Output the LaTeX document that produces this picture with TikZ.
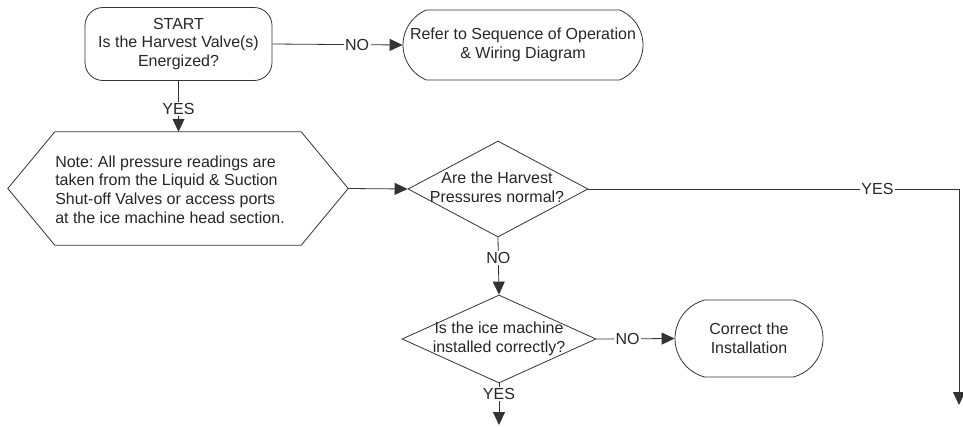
\documentclass[tikz,border=0pt]{standalone}
\usepackage{fontspec}
\setmainfont{Liberation Sans}
\frenchspacing
\usetikzlibrary{shapes.geometric,shapes.misc,arrows.meta}
\begin{document}
\begin{tikzpicture}[x=1pt,y=-1pt,
  every node/.style={font=\fontsize{16}{18.8}\selectfont, text=black!85},
  line/.style={draw=black!80, line width=0.8pt},
  arr/.style={line, -{Triangle[width=12pt,length=13pt]}},
  lbl/.style={fill=white, inner sep=1.5pt},
  startbox/.style={draw=black!80, line width=0.8pt, rectangle, rounded corners=18pt, align=center, inner sep=0pt},
  termbox/.style={draw=black!80, line width=0.8pt, rounded rectangle, align=center, inner sep=0pt},
  decision/.style={draw=black!80, line width=0.8pt, diamond, inner sep=0pt},
  ]
\useasboundingbox (0,0) rectangle (963,426);

% nodes
\node[startbox, minimum width=187pt, minimum height=73pt] (start) at (178.5,44)
  {START\\Is the Harvest Valve(s)\\Energized?};
\node[termbox, rounded rectangle arc length=135, minimum width=240pt, minimum height=70pt] (refer) at (523,45)
  {Refer to Sequence of Operation\\\& Wiring Diagram};

\node[inner sep=0pt, minimum width=340pt, minimum height=113pt] (note) at (178,188.5) {};
\draw[line] (note.west) -- ([xshift=47pt]note.north west) -- ([xshift=-47pt]note.north east)
  -- (note.east) -- ([xshift=-47pt]note.south east) -- ([xshift=47pt]note.south west) -- cycle;
\node[align=left, inner sep=0pt] (notetext) at (170,189.5)
  {Note: All pressure readings are\\taken from the Liquid \& Suction\\Shut-off Valves or access ports\\at the ice machine head section.};

\node[decision, minimum width=180pt, minimum height=96pt] (d1) at (498,189) {};
\node[align=center, inner sep=0pt] (d1text) at (497,187) {Are the Harvest\\Pressures normal?};

\node[decision, minimum width=194pt, minimum height=88pt] (d2) at (499,339) {};
\node[align=center, inner sep=0pt] (d2text) at (499,339) {Is the ice machine\\installed correctly?};

\node[termbox, rounded rectangle arc length=150, minimum width=148pt, minimum height=77pt] (correct) at (749,338.5)
  {Correct the\\Installation};

\coordinate (yesturn) at (959,189);
\coordinate (yesend) at (959,405);
\coordinate (d2end) at (499,425);

% connectors
\draw[arr] (start) -- node[lbl, pos=0.55]{YES} (note.north -| start);
\draw[arr] (start.east) -- node[lbl, pos=0.65]{NO} (refer.west);
\draw[arr] (note.east) -- (d1.west);
\draw[arr] (d1.east) -- node[lbl, pos=0.78]{YES} (yesturn) -- (yesend);
\draw[arr] (d1.south) -- node[lbl, pos=0.36]{NO} (d2.north);
\draw[arr] (d2.east) -- node[lbl, pos=0.4]{NO} (correct.west);
\draw[arr] (d2.south) -- node[lbl, pos=0.25]{YES} (d2end);
\end{tikzpicture}
\end{document}
